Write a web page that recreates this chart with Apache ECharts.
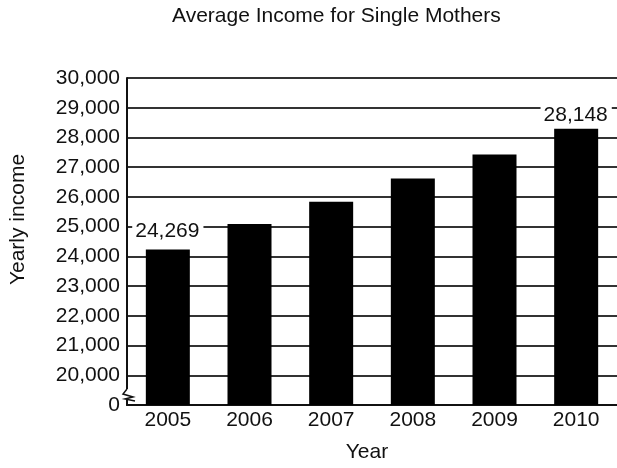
<!DOCTYPE html>
<html><head><meta charset="utf-8">
<script src="https://cdn.jsdelivr.net/npm/echarts@6/dist/echarts.min.js"></script>
<style>html,body{margin:0;padding:0;background:#fff}#c{width:617px;height:468px}</style>
</head><body><div id="c"></div>
<script>
const years = ['2005', '2006', '2007', '2008', '2009', '2010'];
const barValues = [24233, 25090, 25833, 26623, 27423, 28290];
const labelValues = [24269, null, null, null, null, 28148];
const yMin = 19000, yMax = 30000, yStep = 1000;
const FONT = '"Liberation Sans", Arial, sans-serif';
const TXT = '#111';
const chart = echarts.init(document.getElementById('c'), null, {renderer: 'canvas'});
const fmt = v => v === yMin ? '0' : v.toLocaleString('en-US');
chart.setOption({
  animation: false,
  backgroundColor: '#fff',
  title: {
    text: 'Average Income for Single Mothers', left: 172, top: 6, padding: 0,
    textStyle: {fontFamily: FONT, fontSize: 21, fontWeight: 'normal', color: TXT}
  },
  grid: {left: 124, right: -2, top: 78, bottom: 60, containLabel: false},
  xAxis: {
    type: 'category', data: years,
    axisLine: {lineStyle: {color: '#111', width: 2}},
    axisTick: {show: false},
    axisLabel: {fontFamily: FONT, fontSize: 21, color: TXT, margin: 5},
    name: 'Year', nameLocation: 'middle', nameGap: 37,
    nameTextStyle: {fontFamily: FONT, fontSize: 21, color: TXT, padding: [0, 10, 0, 0]}
  },
  yAxis: {
    type: 'value', min: yMin, max: yMax, interval: yStep,
    axisLine: {show: true, lineStyle: {color: '#111', width: 2}},
    axisTick: {show: false},
    splitLine: {lineStyle: {color: '#333', width: 2}},
    axisLabel: {formatter: fmt, fontFamily: FONT, fontSize: 21, color: TXT, margin: 7},
    name: 'Yearly income', nameLocation: 'middle', nameGap: 98, nameRotate: 90,
    nameTextStyle: {fontFamily: FONT, fontSize: 21, color: TXT, padding: [0, 0, 0, 44]}
  },
  series: [
    {type: 'bar', data: barValues, barWidth: 44, itemStyle: {color: '#000'}, z: 2},
    {
      type: 'scatter', data: labelValues.map(v => v == null ? '-' : v), symbolSize: 0, z: 5,
      itemStyle: {opacity: 1},
      label: {
        show: true, position: 'top', distance: 7, opacity: 1,
        formatter: p => Number(p.value).toLocaleString('en-US'),
        backgroundColor: '#fff', padding: [0, 4, 0, 3],
        fontFamily: FONT, fontSize: 21, color: TXT
      }
    }
  ]
});
// axis break symbol at the bottom of the value axis
const rect = chart.getModel().getComponent('grid', 0).coordinateSystem.getRect();
const ax = rect.x;
const yb = chart.convertToPixel({yAxisIndex: 0}, yMin);
chart.setOption({
  graphic: [
    {type: 'rect', shape: {x: ax - 3, y: yb - 16, width: 6, height: 12}, style: {fill: '#fff'}, z: 100},
    {type: 'polyline', shape: {points: [[ax, yb - 16], [ax - 4, yb - 11], [ax + 6, yb - 8], [ax - 2, yb - 6], [ax + 8, yb - 4]]},
     style: {stroke: '#111', lineWidth: 1.5, fill: null}, z: 101},
    {type: 'line', shape: {x1: ax, y1: yb - 5, x2: ax, y2: yb}, style: {stroke: '#111', lineWidth: 2}, z: 101}
  ]
});
</script></body></html>
